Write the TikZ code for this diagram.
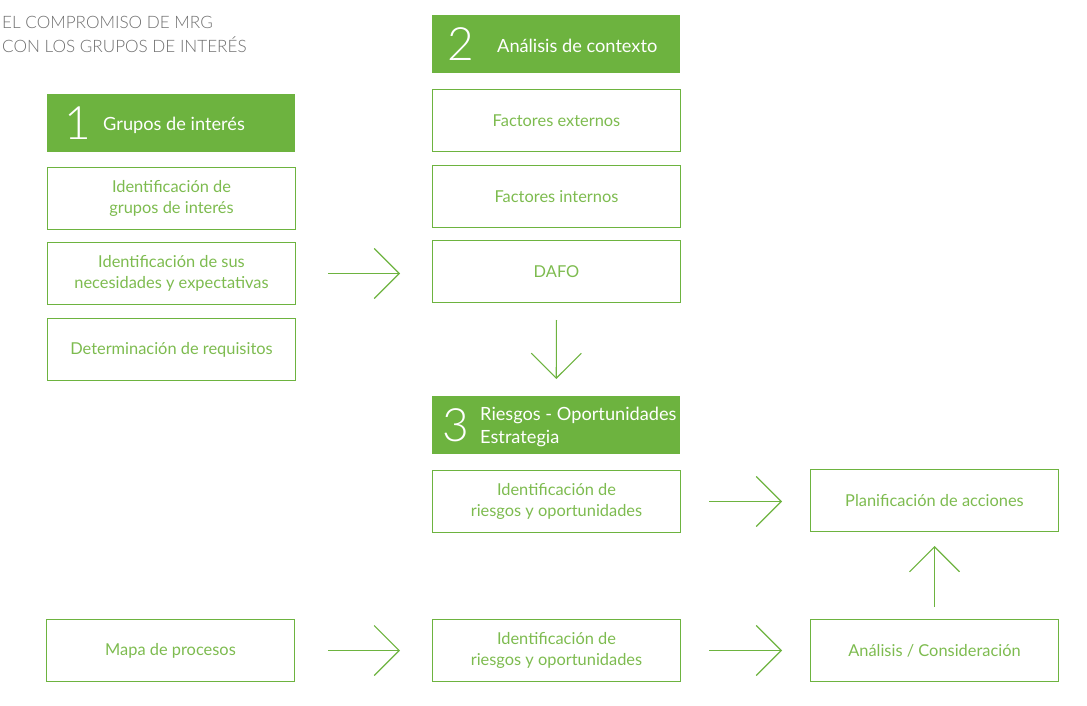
\documentclass[tikz,border=0pt]{standalone}
\usepackage{fontspec}
\setmainfont{Lato}
\newfontfamily\thinfont{Lato Light}
\usepackage{xcolor}
\usetikzlibrary{positioning, arrows.meta}

\definecolor{mrggreen}{HTML}{6DB33F}
\definecolor{mrgtext}{HTML}{7DBB4F}
\definecolor{mrggray}{HTML}{6E6E6E}

\begin{document}
\begin{tikzpicture}[
        % Define styles for consistency
        x=1pt, y=-1pt,
        box/.style={draw=mrggreen, line width=1pt, minimum width=248pt, minimum height=62pt,
            anchor=north west, align=center, text=mrgtext, inner sep=0pt,
            font=\fontsize{16.4}{21}\selectfont},
        header/.style={fill=mrggreen, minimum width=248pt, minimum height=58pt,
            anchor=north west, inner sep=0pt},
        num/.style={text=white, inner sep=0pt, font=\thinfont\fontsize{46}{46}\selectfont},
        headtext/.style={text=white, anchor=west, align=left, inner sep=0pt,
            font=\fontsize{18.2}{22.5}\selectfont},
        flow/.style={draw=mrggreen, line width=1.1pt, -{Straight Barb[length=25pt, width=50pt]}}
    ]
        \useasboundingbox (0,0) rectangle (1087,706);

        % --- Title ---
        \node[anchor=north west, text=mrggray, align=left, inner sep=0pt,
            font=\thinfont\fontsize{17.1}{24}\selectfont] (title) at (2,16)
            {EL COMPROMISO DE MRG\\CON LOS GRUPOS DE INTERÉS};

        % --- Column 1: Grupos de interes ---
        \node[header] (h1) at (47,94) {};
        \node[num] (n1) at ([xshift=31pt]h1.west) {1};
        \node[headtext] (t1) at ([xshift=56pt, yshift=-2pt]h1.west) {Grupos de interés};
        \node[box] (grupos) at (47,167) {Identificación de\\grupos de interés};
        \node[box] (nec) at (47,242) {Identificación de sus\\necesidades y expectativas};
        \node[box] (req) at (47,318) {Determinación de requisitos};

        % --- Column 2: Analisis de contexto ---
        \node[header] (h2) at (432,15) {};
        \node[num] (n2) at ([xshift=29pt]h2.west) {2};
        \node[headtext] (t2) at ([xshift=65pt, yshift=-2pt]h2.west) {Análisis de contexto};
        \node[box] (ext) at (432,89) {Factores externos};
        \node[box] (int) at (432,165) {Factores internos};
        \node[box] (dafo) at (432,240) {DAFO};

        % --- Riesgos - Oportunidades ---
        \node[header] (h3) at (432,396) {};
        \node[num] (n3) at ([xshift=24pt]h3.west) {3};
        \node[headtext] (t3) at ([xshift=48pt, yshift=-2pt]h3.west) {Riesgos - Oportunidades\\Estrategia};
        \node[box] (rie1) at (432,470) {Identificación de\\riesgos y oportunidades};
        \node[box] (plan) at (810,469) {Planificación de acciones};

        % --- Bottom row ---
        \node[box] (mapa) at (46,619) {Mapa de procesos};
        \node[box] (rie2) at (432,619) {Identificación de\\riesgos y oportunidades};
        \node[box] (anal) at (810,619) {Análisis / Consideración};

        % --- Connectors ---
        \draw[flow, shorten <=32pt, shorten >=32pt] (nec.east) -- (nec.east -| dafo.west);
        \draw[flow, shorten <=17pt, shorten >=17pt] (dafo.south) -- (h3.north);
        \draw[flow, shorten <=28pt, shorten >=28pt] (rie1.east) -- (rie1.east -| plan.west);
        \draw[flow, shorten <=12pt, shorten >=14pt] (anal.north) -- (plan.south);
        \draw[flow, shorten <=33pt, shorten >=32pt] (mapa.east) -- (rie2.west);
        \draw[flow, shorten <=28pt, shorten >=28pt] (rie2.east) -- (anal.west);

\end{tikzpicture}
\end{document}
